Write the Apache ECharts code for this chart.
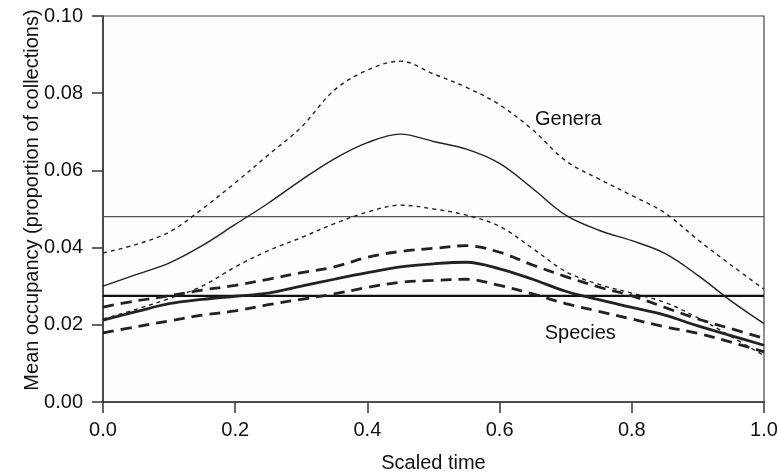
<!DOCTYPE html>
<html>
<head>
<meta charset="utf-8">
<script src="https://cdn.jsdelivr.net/npm/echarts@6/dist/echarts.min.js"></script>
<style>html,body{margin:0;padding:0;background:#fff;}#c{width:777px;height:472px;}</style>
</head>
<body>
<div id="c"></div>
<script>
// Scaled time sample points
const scaledTime = [0, 0.05, 0.1, 0.15, 0.2, 0.25, 0.3, 0.35, 0.4, 0.45, 0.5, 0.55, 0.6, 0.65, 0.7, 0.75, 0.8, 0.85, 0.9, 0.95, 1.0];

// Genera: mean and confidence bounds
const generaMean  = [0.0300, 0.0330, 0.0360, 0.0405, 0.0460, 0.0515, 0.0575, 0.0630, 0.0672, 0.0694, 0.0675, 0.0655, 0.0618, 0.0553, 0.0484, 0.0445, 0.0418, 0.0385, 0.0328, 0.0262, 0.0203];
const generaUpper = [0.0386, 0.0408, 0.0440, 0.0500, 0.0568, 0.0640, 0.0712, 0.0808, 0.0860, 0.0883, 0.0850, 0.0815, 0.0770, 0.0705, 0.0625, 0.0578, 0.0535, 0.0490, 0.0420, 0.0355, 0.0292];
const generaLower = [0.0215, 0.0240, 0.0268, 0.0300, 0.0350, 0.0392, 0.0426, 0.0462, 0.0492, 0.0510, 0.0500, 0.0484, 0.0455, 0.0398, 0.0338, 0.0305, 0.0282, 0.0258, 0.0218, 0.0170, 0.0120];

// Species: mean and confidence bounds
const speciesMean  = [0.0212, 0.0234, 0.0255, 0.0266, 0.0274, 0.0282, 0.0300, 0.0318, 0.0335, 0.0350, 0.0358, 0.0362, 0.0345, 0.0318, 0.0287, 0.0265, 0.0245, 0.0225, 0.0197, 0.0172, 0.0147];
const speciesUpper = [0.0246, 0.0262, 0.0275, 0.0290, 0.0302, 0.0318, 0.0335, 0.0350, 0.0375, 0.0390, 0.0398, 0.0405, 0.0388, 0.0355, 0.0325, 0.0298, 0.0275, 0.0245, 0.0215, 0.0190, 0.0165];
const speciesLower = [0.0179, 0.0195, 0.0210, 0.0225, 0.0236, 0.0252, 0.0266, 0.0280, 0.0297, 0.0310, 0.0315, 0.0318, 0.0302, 0.0280, 0.0255, 0.0235, 0.0215, 0.0195, 0.0178, 0.0155, 0.0130];

// Overall mean reference levels
const generaOverall = 0.048;
const speciesOverall = 0.0275;

// Text annotations
const annotations = [
  { name: 'Genera', x: 0.704, y: 0.0732 },
  { name: 'Species', x: 0.722, y: 0.0178 }
];

// Axis ticks
const xTicks = { min: 0, max: 1, step: 0.2 };
const yTicks = { min: 0, max: 0.1, step: 0.02 };

const FONT = 'Liberation Sans, Arial, Helvetica, sans-serif';
const INK = '#222';

function pairs(ys) { return scaledTime.map((x, i) => [x, ys[i]]); }
function flat(v) { return [[xTicks.min, v], [xTicks.max, v]]; }

function lineSeries(name, data, width, type, color, z) {
  return {
    name: name, type: 'line', data: data, symbol: 'none', smooth: 0.35,
    silent: true, z: z || 3,
    lineStyle: { color: color || INK, width: width, type: type, cap: 'butt' }
  };
}

const series = [
  lineSeries('Genera overall', flat(generaOverall), 1.2, 'solid', '#555', 2),
  lineSeries('Species overall', flat(speciesOverall), 2.2, 'solid', '#111', 2),
  lineSeries('Genera mean', pairs(generaMean), 1.4, 'solid'),
  lineSeries('Genera upper', pairs(generaUpper), 1.4, [4, 4]),
  lineSeries('Genera lower', pairs(generaLower), 1.4, [4, 4]),
  lineSeries('Species mean', pairs(speciesMean), 2.8, 'solid'),
  lineSeries('Species upper', pairs(speciesUpper), 2.8, [11, 7]),
  lineSeries('Species lower', pairs(speciesLower), 2.8, [11, 7]),
  {
    name: 'labels', type: 'scatter', silent: true, z: 5,
    symbol: 'circle', symbolSize: 0,
    itemStyle: { opacity: 1, color: '#111' },
    data: annotations.map(a => ({ name: a.name, value: [a.x, a.y] })),
    label: { show: true, position: 'inside', color: '#111', opacity: 1, fontFamily: FONT, fontSize: 20,
             formatter: p => p.name }
  }
];

const chart = echarts.init(document.getElementById('c'), null, { renderer: 'canvas' });
chart.setOption({
  animation: false,
  backgroundColor: '#fff',
  grid: { left: 103, right: 13, top: 16, bottom: 70, containLabel: false, outerBoundsMode: 'none',
          show: true, borderColor: '#444', borderWidth: 1.2, backgroundColor: '#fdfdfd' },
  xAxis: {
    type: 'value', min: xTicks.min, max: xTicks.max, interval: xTicks.step,
    name: 'Scaled time', nameLocation: 'middle', nameGap: 51, nameMoveOverlap: false,
    nameTextStyle: { fontFamily: FONT, fontSize: 20, color: '#111' },
    axisLine: { show: true, lineStyle: { color: '#333', width: 1.5 } },
    axisTick: { show: true, length: 11, lineStyle: { color: '#333', width: 1.5 } },
    axisLabel: { fontFamily: FONT, fontSize: 20, color: '#111', margin: 18, formatter: v => v.toFixed(1) },
    splitLine: { show: false }
  },
  yAxis: {
    type: 'value', min: yTicks.min, max: yTicks.max, interval: yTicks.step,
    name: 'Mean occupancy (proportion of collections)', nameLocation: 'middle', nameGap: 61, nameMoveOverlap: false,
    nameTextStyle: { fontFamily: FONT, fontSize: 20, color: '#111', padding: [0, 0, 0, 18] },
    axisLine: { show: true, lineStyle: { color: '#333', width: 1.5 } },
    axisTick: { show: true, length: 11, lineStyle: { color: '#333', width: 1.5 } },
    axisLabel: { fontFamily: FONT, fontSize: 20, color: '#111', margin: 20, formatter: v => v.toFixed(2) },
    splitLine: { show: false }
  },
  series: series
});
</script>
</body>
</html>
